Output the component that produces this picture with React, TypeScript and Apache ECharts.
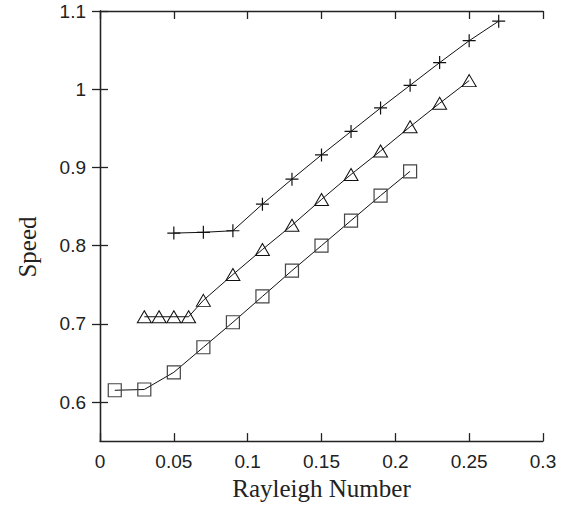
import React, { useEffect, useRef } from "react";
import * as echarts from "echarts";

const xPlus = [0.05, 0.07, 0.09, 0.11, 0.13, 0.15, 0.17, 0.19, 0.21, 0.23, 0.25, 0.27];
const yPlus = [0.816, 0.817, 0.819, 0.853, 0.885, 0.916, 0.946, 0.976, 1.005, 1.034, 1.062, 1.087];

const xTri = [0.03, 0.04, 0.05, 0.06, 0.07, 0.09, 0.11, 0.13, 0.15, 0.17, 0.19, 0.21, 0.23, 0.25];
const yTri = [0.709, 0.709, 0.709, 0.709, 0.73, 0.763, 0.795, 0.826, 0.859, 0.891, 0.921, 0.952, 0.982, 1.011];

const xSq = [0.01, 0.03, 0.05, 0.07, 0.09, 0.11, 0.13, 0.15, 0.17, 0.19, 0.21];
const ySq = [0.615, 0.616, 0.638, 0.67, 0.702, 0.735, 0.768, 0.8, 0.832, 0.864, 0.895];

const yTicks = [0.6, 0.7, 0.8, 0.9, 1.0, 1.1];
const xTitle = "Rayleigh Number";
const yTitle = "Speed";

const zip = (xs: number[], ys: number[]) => xs.map((x, i) => [x, ys[i]]);

export default function App() {
  const ref = useRef<HTMLDivElement>(null);
  useEffect(() => {
    if (!ref.current) return;
    const chart = echarts.init(ref.current, undefined, { renderer: "svg" });
    const axisLine = { show: true, lineStyle: { color: "#222", width: 1.3 } };
    const tick = { show: true, inside: true, length: 8, lineStyle: { color: "#222", width: 1.3 } };
    const labelFont = { fontFamily: "Liberation Sans", fontSize: 19, color: "#222" };
    const lineBase = {
      type: "line" as const,
      lineStyle: { color: "#111", width: 1 },
      symbolKeepAspect: true,
      z: 3,
    };
    chart.setOption({
      animation: false,
      backgroundColor: "#fff",
      grid: { left: 100, right: 34, top: 11, bottom: 61 },
      xAxis: [
        {
          type: "value",
          min: 0,
          max: 0.3,
          interval: 0.05,
          position: "bottom",
          axisLine,
          axisTick: tick,
          splitLine: { show: false },
          axisLabel: { ...labelFont, margin: 11 },
          name: xTitle,
          nameLocation: "middle",
          nameGap: 30,
          nameTextStyle: { fontFamily: "Liberation Serif", fontSize: 25, color: "#222" },
        },
        {
          type: "value",
          min: 0,
          max: 0.3,
          interval: 0.05,
          position: "top",
          axisLine,
          axisTick: tick,
          splitLine: { show: false },
          axisLabel: { show: false },
        },
      ],
      yAxis: [
        {
          type: "value",
          min: 0.55,
          max: 1.1,
          position: "left",
          axisLine,
          axisTick: { ...tick, customValues: yTicks },
          splitLine: { show: false },
          axisLabel: { ...labelFont, margin: 14, customValues: yTicks },
        },
        {
          type: "value",
          min: 0.55,
          max: 1.1,
          position: "right",
          axisLine,
          axisTick: { ...tick, customValues: yTicks },
          splitLine: { show: false },
          axisLabel: { show: false },
        },
      ],
      graphic: [
        {
          type: "text",
          x: 27,
          y: 247,
          rotation: Math.PI / 2,
          style: {
            text: yTitle,
            fontFamily: "Liberation Serif",
            fontSize: 25,
            fill: "#222",
            align: "center",
            verticalAlign: "middle",
          },
        },
      ],
      series: [
        {
          ...lineBase,
          data: zip(xPlus, yPlus),
          symbol: "path://M0,6.5L13,6.5M6.5,0L6.5,13",
          symbolSize: 13,
          itemStyle: { color: "none", borderColor: "#111", borderWidth: 1.2 },
        },
        {
          ...lineBase,
          data: zip(xTri, yTri),
          symbol: "triangle",
          symbolSize: [14, 12],
          itemStyle: { color: "none", borderColor: "#111", borderWidth: 1 },
        },
        {
          ...lineBase,
          data: zip(xSq, ySq),
          symbol: "rect",
          symbolSize: 13,
          itemStyle: { color: "none", borderColor: "#444", borderWidth: 1.2 },
        },
      ],
    });
    return () => chart.dispose();
  }, []);
  return (
    <div
      ref={ref}
      style={{ position: "fixed", left: 0, top: 0, width: 577, height: 506 }}
    />
  );
}
